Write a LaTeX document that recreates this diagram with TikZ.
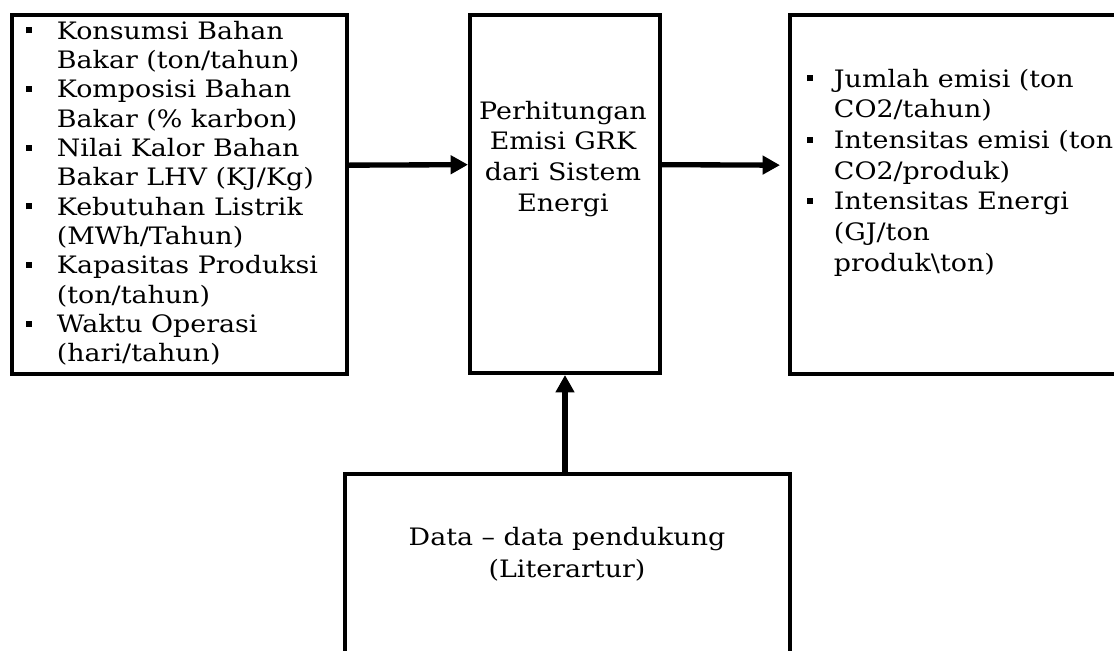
\documentclass[tikz,border=0pt]{standalone}
\usepackage{fontspec}
\setmainfont[FakeStretch=1.12]{DejaVu Serif}
\usetikzlibrary{arrows.meta,positioning}
\newcommand{\blt}{\raisebox{4.5pt}{\rule{4.5pt}{4.5pt}}}

\begin{document}
\begin{tikzpicture}[x=0.75pt,y=-0.75pt,
    box/.style={draw, rectangle, line width=3pt, inner sep=0pt, anchor=north west},
    txt/.style={inner sep=0pt, font=\fontsize{18}{22}\selectfont},
    flow/.style={line width=4pt, -{Triangle[length=13pt,width=13.5pt]}}]
    \useasboundingbox (0,0) rectangle (1114,650);
    \clip (0,0) rectangle (1114,650);

    % boxes
    \node[box, minimum width=251.25pt, minimum height=269.25pt] (src) at (10,13) {};
    \node[box, minimum width=142.5pt, minimum height=268.5pt] (calc) at (468,13) {};
    \node[box, minimum width=300pt, minimum height=269.25pt] (res) at (788,13) {};
    \node[box, minimum width=333.75pt, minimum height=187.5pt] (data) at (343,472) {};

    % texts
    \node[txt, anchor=north west] (srclist) at (26,18.5) {%
        \begin{tabular}{@{}l@{}l@{}}
        \makebox[23pt][l]{\blt} & Konsumsi Bahan\\
         & Bakar (ton/tahun)\\
        \makebox[23pt][l]{\blt} & Komposisi Bahan\\
         & Bakar (\% karbon)\\
        \makebox[23pt][l]{\blt} & Nilai Kalor Bahan\\
         & Bakar LHV (KJ/Kg)\\
        \makebox[23pt][l]{\blt} & Kebutuhan Listrik\\
         & (MWh/Tahun)\\
        \makebox[23pt][l]{\blt} & Kapasitas Produksi\\
         & (ton/tahun)\\
        \makebox[23pt][l]{\blt} & Waktu Operasi\\
         & (hari/tahun)
        \end{tabular}};
    \node[txt, anchor=north, font=\fontsize{18}{23}\selectfont] (calctext) at (563,97.5) {%
        \begin{tabular}{@{}c@{}}
        Perhitungan\\ Emisi GRK\\ dari Sistem\\ Energi
        \end{tabular}};
    \node[txt, anchor=north west, font=\fontsize{18}{23}\selectfont] (reslist) at (807,65.5) {%
        \begin{tabular}{@{}l@{}l@{}}
        \makebox[20pt][l]{\blt} & Jumlah emisi (ton\\
         & CO2/tahun)\\
        \makebox[20pt][l]{\blt} & Intensitas emisi (ton\\
         & CO2/produk)\\
        \makebox[20pt][l]{\blt} & Intensitas Energi\\
         & (GJ/ton\\
         & produk\textbackslash ton)
        \end{tabular}};
    \node[txt, anchor=north, font=\fontsize{18}{24}\selectfont] (datatext) at (567,522.6) {%
        \begin{tabular}{@{}c@{}}
        Data – data pendukung\\ (Literartur)
        \end{tabular}};

    % arrows
    \draw[flow] ([yshift=22pt]src.east) -- ([yshift=22pt]calc.west);
    \draw[flow] ([yshift=22pt]calc.east) -- ([yshift=22pt,xshift=-6pt]res.west);
    \draw[flow] (data.north -| calc.south) -- (calc.south);
\end{tikzpicture}
\end{document}
